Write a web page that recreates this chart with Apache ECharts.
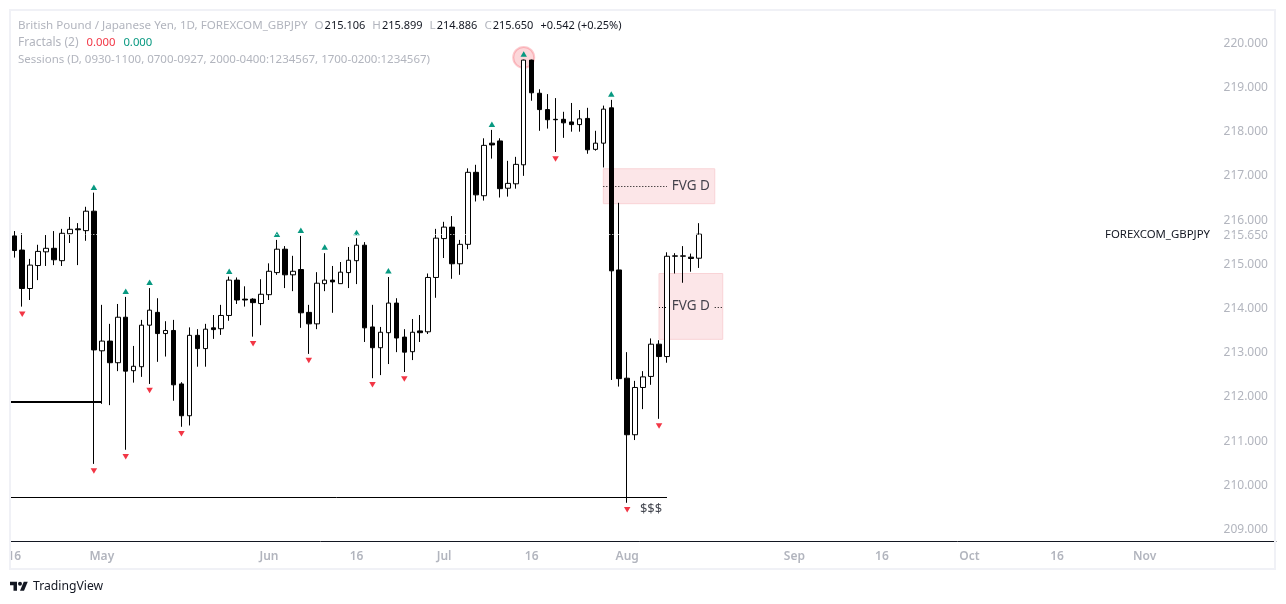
<!DOCTYPE html>
<html>
<head>
<meta charset="utf-8">
<style>html,body{margin:0;padding:0;background:#fff}#c{width:1286px;height:604px}</style>
<script src="https://cdn.jsdelivr.net/npm/echarts@6/dist/echarts.min.js"></script>
</head>
<body>
<div id="c"></div>
<script>
const opens=[215.61,215.29,214.42,214.94,215.25,215.33,215.05,215.66,215.77,215.73,216.17,213.01,213.23,212.74,213.77,212.56,212.65,213.59,213.88,213.40,213.47,212.26,211.54,213.36,213.06,213.53,213.51,213.81,214.61,214.18,214.18,214.08,214.28,214.78,215.31,214.73,214.85,213.88,213.62,214.53,214.61,214.53,214.78,215.05,215.40,213.55,213.08,213.42,214.09,213.32,212.99,213.46,213.44,214.67,215.55,215.81,214.98,215.42,217.05,216.52,217.71,217.76,216.69,216.79,217.22,219.59,218.84,218.47,218.25,218.25,218.19,218.13,218.27,217.57,217.71,218.51,214.84,212.39,211.11,212.18,212.43,213.16,212.88,215.15,215.15,215.13,215.106];
const closes=[215.28,214.42,214.95,215.26,215.33,215.07,215.67,215.76,215.75,216.17,213.03,213.23,212.74,213.77,212.55,212.66,213.59,213.93,213.40,213.47,212.24,211.54,213.36,213.06,213.50,213.49,213.81,214.61,214.16,214.16,214.10,214.29,214.81,215.31,214.73,214.81,213.87,213.62,214.54,214.61,214.57,214.79,215.06,215.40,213.53,213.08,213.43,214.09,213.30,212.98,213.43,213.42,214.67,215.56,215.81,214.98,215.42,217.05,216.54,217.66,217.67,216.68,216.80,217.23,219.59,218.85,218.47,218.24,218.24,218.17,218.13,218.26,217.56,217.71,218.48,214.82,212.38,211.11,212.18,212.42,213.16,212.88,215.15,215.16,215.16,215.10,215.650];
const lows=[215.12,214.01,214.16,214.61,214.93,214.95,214.93,215.45,214.95,215.50,210.45,211.81,211.78,212.55,210.77,212.29,212.42,212.26,212.76,212.88,211.88,211.29,211.32,212.65,212.65,213.28,213.37,213.69,214.07,214.01,213.33,213.59,214.16,214.73,214.43,214.36,213.53,212.94,213.50,214.36,213.87,214.53,214.43,214.52,213.21,212.39,212.46,212.71,212.98,212.53,212.80,213.21,213.39,214.21,215.11,214.64,214.73,215.31,216.39,216.41,217.36,216.48,216.50,216.68,216.97,218.67,217.99,218.04,217.51,217.83,217.97,217.97,217.47,217.54,217.16,212.35,212.20,209.57,210.99,211.69,212.24,211.47,212.74,214.76,214.55,214.80,214.886];
const highs=[215.72,215.67,215.09,215.41,215.63,215.72,215.77,216.04,215.90,216.27,216.59,214.05,213.62,214.07,214.23,213.12,213.71,214.43,214.20,213.68,213.71,212.30,213.54,213.50,213.62,213.82,214.05,214.69,214.67,214.47,214.20,214.63,214.99,215.52,215.38,215.16,215.61,214.05,214.79,215.22,214.93,215.02,215.36,215.56,215.47,214.05,213.55,214.68,214.20,213.50,213.73,213.82,214.76,215.77,215.93,216.06,215.52,217.14,217.22,217.82,218.01,217.82,217.31,217.40,219.60,219.60,218.93,218.82,218.73,218.42,218.62,218.46,218.51,217.99,218.56,218.69,216.36,212.98,212.33,212.55,213.29,213.25,215.24,215.22,215.38,215.21,215.899];

const fractalUpDate=[10,14,17,27,33,36,39,43,47,60,64,75];
const fractalUpValue=[216.71,214.36,214.56,214.81,215.65,215.74,215.36,215.69,214.82,218.14,219.73,218.82];
const fractalDownDate=[1,10,14,17,21,30,37,45,49,68,77,81];
const fractalDownValue=[213.84,210.29,210.61,212.11,211.13,213.17,212.79,212.24,212.37,217.35,209.41,211.31];

const fvgZones=[[74,88,217.13,216.34],[81,89,214.76,213.27]];
const fvgDots=[[74,82,216.74],[81,81.7,214.0],[88,89,214.0]];
const fvgLabels=[[85,216.74],[85,214.02]];
const levelThick=[-1,11,211.85];
const levelThin=[-1,82,209.69];
const liquidityLabel=[80,209.43];
const highlight=[64,219.65];
const lastClose=215.650;

const yTicks=[209,210,211,212,213,214,215,216,217,218,219,220];
const tickLabels={'2026-04-16':'16','2026-05-01':'May','2026-06-01':'Jun','2026-06-16':'16','2026-07-01':'Jul','2026-07-16':'16','2026-08-03':'Aug','2026-09-01':'Sep','2026-09-16':'16','2026-10-01':'Oct','2026-10-16':'16','2026-11-02':'Nov'};

// trading days; the first one (15 Apr) lies just off the visible left edge
const categories=[];
for(let d=new Date(Date.UTC(2026,3,15));categories.length<160;d=new Date(d.getTime()+864e5)){
  const w=d.getUTCDay();
  if(w!==0&&w!==6)categories.push(d.toISOString().slice(0,10));
}
const at=i=>i+1; // candle number to category slot

const FONT='"Noto Sans"';
const GRAY='#b2b5be',INK='#131722',RED='#f23645',GREEN='#089981';
const st=(c,s,pr)=>({color:c,fontSize:s,fontFamily:FONT,fontWeight:'normal',padding:[0,pr||0,0,0]});
const rich={
  t:st(GRAY,11.6,7),g:st(GRAY,11.6,1),v:st(INK,11,7),c:st(INK,11,0),
  f:st(GRAY,12,8),r:st(RED,11.3,8),n:st(GREEN,11.3,0),s:st(GRAY,11.5,0)
};
const titleAt=(top,text)=>({text,left:18,top,padding:0,textStyle:{rich,fontFamily:FONT,fontSize:12,fontWeight:'normal'}});
const logoL=[[0,4],[14,4],[14,22],[7,22],[7,11],[0,11]].map(p=>[10+p[0]*0.5,579.7+p[1]*0.5]);
const logoR=[[20,22],[27.5,4],[35.5,4],[28,22]].map(p=>[10+p[0]*0.5,579.7+p[1]*0.5]);

const chart=echarts.init(document.getElementById('c'),null,{renderer:'canvas'});
chart.setOption({
  animation:false,
  backgroundColor:'#ffffff',
  title:[
    titleAt(20,'{t|British Pound / Japanese Yen, 1D, FOREXCOM_GBPJPY}{g|O}{v|215.106}{g|H}{v|215.899}{g|L}{v|214.886}{g|C}{v|215.650}{c|+0.542 (+0.25%)}'),
    titleAt(37,'{f|Fractals (2)}{r|0.000}{n|0.000}'),
    titleAt(53.5,'{s|Sessions (D, 0930-1100, 0700-0927, 2000-0400:1234567, 1700-0200:1234567)}')
  ],
  grid:{left:2.34,top:10,width:1273.6,height:531,containLabel:false},
  xAxis:{
    type:'category',data:categories,boundaryGap:true,
    axisLine:{lineStyle:{color:INK,width:1}},
    axisTick:{show:false},splitLine:{show:false},
    axisLabel:{
      color:GRAY,fontSize:12,fontFamily:FONT,fontWeight:600,margin:10,hideOverlap:false,
      interval:(i,v)=>v in tickLabels,
      formatter:v=>tickLabels[v]||''
    }
  },
  yAxis:{
    type:'value',position:'right',min:208.705,max:220.724,scale:true,
    axisLine:{show:false},axisTick:{show:false},splitLine:{show:false},
    axisLabel:{
      inside:true,margin:8,fontSize:12,fontFamily:FONT,verticalAlign:'top',lineHeight:3,
      customValues:yTicks.concat([lastClose]),
      color:v=>v===lastClose?INK:GRAY,
      formatter:v=>v.toFixed(3)
    }
  },
  series:[
    {
      type:'candlestick',barWidth:5,z:3,clip:false,
      data:[['-','-','-','-']].concat(opens.map((o,i)=>[o,closes[i],lows[i],highs[i]])),
      itemStyle:{color:'#ffffff',color0:'#000000',borderColor:'#000000',borderColor0:'#000000',borderWidth:1},
      markArea:{
        silent:true,z:1,
        itemStyle:{color:'#fce6e8',borderColor:'#f9d3d6',borderWidth:1},
        data:fvgZones.map(z=>[{xAxis:at(z[0]),yAxis:z[2]},{xAxis:at(z[1]),yAxis:z[3]}])
      },
      markLine:{
        silent:true,symbol:'none',z:6,label:{show:false},animation:false,
        data:[
          [{xAxis:0,yAxis:lastClose,lineStyle:{color:'#ffffff',width:1,type:[1,2]}},{xAxis:159,yAxis:lastClose}],
          [{xAxis:at(levelThick[0]),yAxis:levelThick[2],lineStyle:{color:'#000000',width:2,type:'solid'}},{xAxis:at(levelThick[1]),yAxis:levelThick[2]}],
          [{xAxis:at(levelThin[0]),yAxis:levelThin[2],lineStyle:{color:'#000000',width:1,type:'solid'}},{xAxis:at(levelThin[1]),yAxis:levelThin[2]}]
        ].concat(fvgDots.map(d=>[{xAxis:at(d[0]),yAxis:d[2],lineStyle:{color:'#000000',width:1,type:[1,2]}},{xAxis:at(d[1]),yAxis:d[2]}]))
      }
    },
    {type:'scatter',z:1,silent:true,symbol:'circle',symbolSize:21,
      itemStyle:{color:'rgba(242,54,69,0.25)',borderColor:'rgba(242,54,69,0.32)',borderWidth:2},
      data:[[at(highlight[0]),highlight[1]]]},
    {type:'scatter',z:5,silent:true,symbol:'triangle',symbolSize:[6.5,5.5],itemStyle:{color:GREEN,opacity:1},
      data:fractalUpDate.map((x,i)=>[at(x),fractalUpValue[i]])},
    {type:'scatter',z:5,silent:true,symbol:'triangle',symbolRotate:180,symbolSize:[6.5,5.5],itemStyle:{color:RED,opacity:1},
      data:fractalDownDate.map((x,i)=>[at(x),fractalDownValue[i]])},
    {type:'scatter',z:7,silent:true,symbol:'circle',symbolSize:1,itemStyle:{color:'rgba(0,0,0,0)'},
      label:{show:true,position:'inside',formatter:'FVG D',color:INK,fontSize:13.5,fontFamily:FONT},
      data:fvgLabels.map(p=>[at(p[0]),p[1]])},
    {type:'scatter',z:7,silent:true,symbol:'circle',symbolSize:1,itemStyle:{color:'rgba(0,0,0,0)'},
      label:{show:true,position:'inside',formatter:'$$$',color:INK,fontSize:13,fontFamily:FONT},
      data:[[at(liquidityLabel[0]),liquidityLabel[1]]]}
  ],
  graphic:[
    {type:'rect',z:20,silent:true,shape:{x:0,y:9,width:10,height:562},style:{fill:'#ffffff'}},
    {type:'rect',z:21,silent:true,shape:{x:10,y:10,width:1265,height:559},style:{fill:'none',stroke:'#f0f1f6',lineWidth:2}},
    {type:'text',z:22,silent:true,x:1105,y:234.5,style:{text:'FOREXCOM_GBPJPY',fill:INK,font:'11.4px '+FONT,textVerticalAlign:'middle'}},
    {type:'polygon',z:22,silent:true,shape:{points:logoL},style:{fill:INK}},
    {type:'polygon',z:22,silent:true,shape:{points:logoR},style:{fill:INK}},
    {type:'circle',z:22,silent:true,shape:{cx:20,cy:583.7,r:2},style:{fill:INK}},
    {type:'text',z:22,silent:true,x:33,y:587,style:{text:'TradingView',fill:INK,font:'12.2px '+FONT,textVerticalAlign:'middle'}}
  ]
});
</script>
</body>
</html>
